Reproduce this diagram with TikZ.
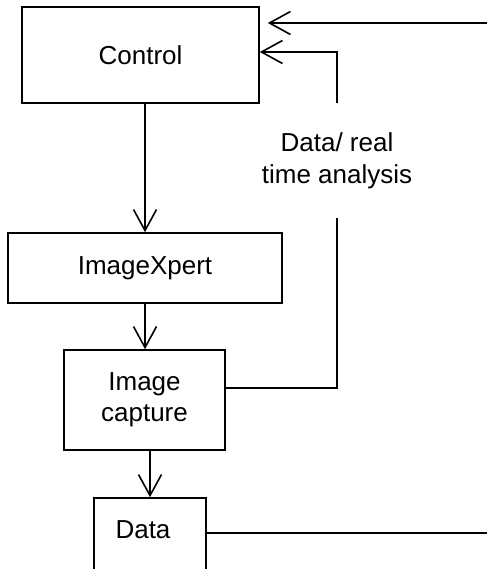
\documentclass[tikz,border=0pt]{standalone}
\usepackage{fontspec}
\setmainfont{Liberation Sans}
\usetikzlibrary{arrows.meta}
\tikzset{
  box/.style={draw, line width=1.6pt, rectangle, inner sep=0pt},
  lbltext/.style={font=\fontsize{26}{32}\selectfont, align=center, inner sep=0pt},
  conn/.style={line width=1.6pt},
  arr/.style={conn, -{Straight Barb[length=21pt,width=23pt,line width=1.6pt]}}
}
\begin{document}
\begin{tikzpicture}[x=1pt,y=-1pt]
\useasboundingbox (0,0) rectangle (487,569);
\clip (0,0) rectangle (487,569);
% boxes
\node[box, lbltext, minimum width=237pt, minimum height=96pt] (control) at (140.5,55) {Control};
\node[box, lbltext, minimum width=274pt, minimum height=70pt] (imgx) at (145,268) {ImageXpert};
\node[box, lbltext, minimum width=161pt, minimum height=100pt] (capture) at (144.5,400) {Image\\[-1pt]capture};
\node[box, minimum width=112pt, minimum height=100pt] (data) at (150,548) {};
\node[lbltext] (datatxt) at (143,530) {Data};
\node[lbltext, minimum height=115pt] (lbl) at (337,160.5) {Data/ real\\time analysis};
% coordinates
\coordinate (c1) at (337,52);
\coordinate (c2) at (337,388);
\coordinate (topin) at (487,23);
\coordinate (dataout) at (487,533);
% vertical flow
\draw[arr] (imgx.north |- control.south) -- (imgx.north);
\draw[arr] (imgx.south) -- (imgx.south |- capture.north);
\draw[arr] (data.north |- capture.south) -- (data.north);
% feedback
\draw[conn] (capture.east |- c2) -- (c2) -- (lbl.south);
\draw[arr] (lbl.north) -- (c1) -- (control.east |- c1);
\draw[arr, shorten >=8pt] (topin) -- (control.east |- topin);
\draw[conn] (data.east |- dataout) -- (dataout);
\end{tikzpicture}
\end{document}
